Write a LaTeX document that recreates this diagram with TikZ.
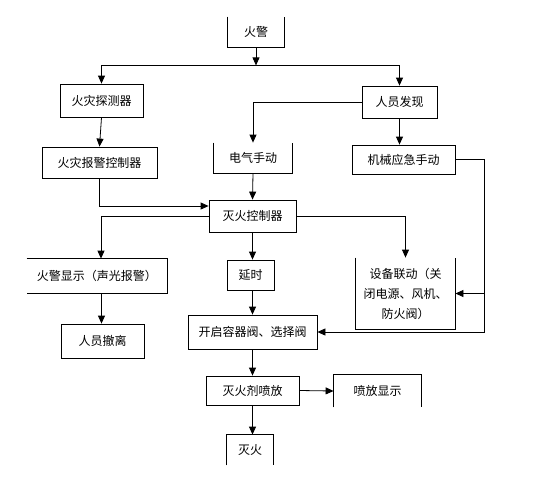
\documentclass[tikz,border=0pt]{standalone}
\usepackage{fontspec}
\newfontfamily\cjk{Noto Sans CJK SC}
\usetikzlibrary{arrows.meta}
\usetikzlibrary{calc}

\begin{document}
\begin{tikzpicture}[x=1pt,y=-1pt,line width=0.8pt,>={Triangle[length=8pt,width=7pt]},
  every node/.style={font=\cjk\fontsize{12}{20}\selectfont,inner sep=2pt},
  box/.style={draw},
  open/.style={}]
  \useasboundingbox (0,0) rectangle (550,483);
  \node[open,minimum width=56pt,minimum height=30pt] (huojing) at (256,32){火警};
  \node[box,minimum width=83pt,minimum height=33pt] (tance) at (101.5,100.5){火灾探测器};
  \node[box,minimum width=75pt,minimum height=32pt] (faxian) at (399.5,102){人员发现};
  \node[box,minimum width=115pt,minimum height=31pt] (baojing) at (99.5,162.5){火灾报警控制器};
  \node[open,minimum width=78pt,minimum height=30pt] (dianqi) at (253,158){电气手动};
  \node[box,minimum width=103pt,minimum height=29pt] (jixie) at (403.5,159.5){机械应急手动};
  \node[box,minimum width=87pt,minimum height=32pt] (kongzhi) at (252.5,216){灭火控制器};
  \node[open,minimum width=140pt,minimum height=34pt] (xianshi) at (97,276){火警显示（声光报警）};
  \node[box,minimum width=47pt,minimum height=30pt] (yanshi) at (250.5,275){延时};
  \node[open,minimum width=99pt,minimum height=71pt,align=center] (liandong) at (405.5,293.5){设备联动（关\\闭电源、风机、\\防火阀）};
  \node[box,minimum width=83pt,minimum height=34pt] (chesan) at (102.5,341){人员撤离};
  \node[box,minimum width=129pt,minimum height=34pt] (kaiqi) at (252.5,332){开启容器阀、选择阀};
  \node[box,minimum width=93pt,minimum height=29pt] (penfang) at (252.5,390.5){灭火剂喷放};
  \node[open,minimum width=87pt,minimum height=32pt] (pfxs) at (377.5,391){喷放显示};
  \node[open,minimum width=46pt,minimum height=30pt] (miehuo) at (250,450){灭火};
  % boxes with missing sides
  \draw (huojing.north west)--(huojing.south west)--(huojing.south east)--(huojing.north east);
  \draw (dianqi.north west)--(dianqi.south west)--(dianqi.south east)--(dianqi.north east);
  \draw (liandong.north west)--(liandong.south west)--(liandong.south east)--(liandong.north east);
  \draw (xianshi.north west)--(xianshi.north east)--(xianshi.south east)--(xianshi.south west);
  \draw (pfxs.south west)--(pfxs.north west)--(pfxs.north east)--(pfxs.south east);
  \draw (miehuo.south west)--(miehuo.north west)--(miehuo.north east)--(miehuo.south east);
  \coordinate (fen) at ($(huojing.south)+(0,18)$);
  \coordinate (guai) at ($(jixie.east)+(29,0)$);
  \draw[->](huojing.south)--(fen);
  \draw[->](fen)-|(tance.north);
  \draw[->](fen)-|(faxian.north);
  \draw[->](tance.south)--(baojing.north);
  \draw[->](faxian.west)-|(dianqi.north);
  \draw[->](faxian.south)--(faxian.south |- jixie.north);
  \draw[->](baojing.south)|-($(kongzhi.west)+(0,-10)$);
  \draw[->](dianqi.south)--(kongzhi.north);
  \draw[->](kongzhi.west)-|([xshift=4pt]xianshi.north);
  \draw[->](kongzhi.east)-|(liandong.north);
  \draw[->](kongzhi.south)--(kongzhi.south |- yanshi.north);
  \draw[->](xianshi.south -| tance.south)--(chesan.north -| tance.south);
  \draw[->](yanshi.south -| kongzhi.south)--(kaiqi.north);
  \draw[->](jixie.east)--(guai)|-(kaiqi.east);
  \draw[->](guai |- liandong.east)--(liandong.east);
  \draw[->](kaiqi.south)--(penfang.north);
  \draw[->](penfang.east)--(pfxs.west);
  \draw[->](penfang.south)--(penfang.south |- miehuo.north);
\end{tikzpicture}
\end{document}
